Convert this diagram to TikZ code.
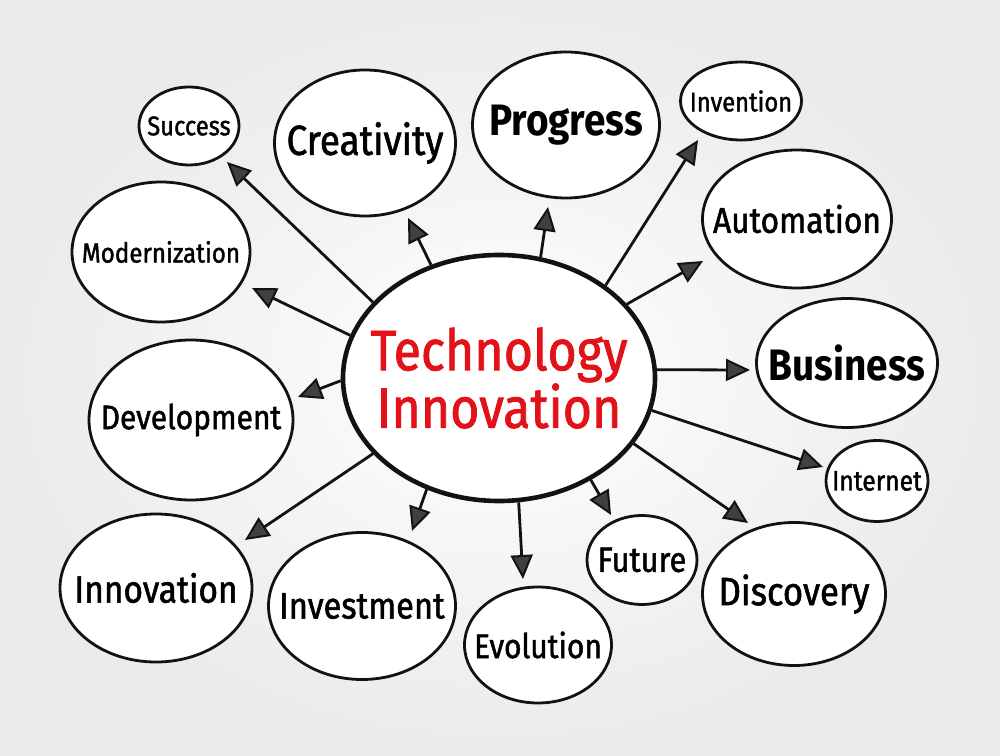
\documentclass[tikz,border=0pt]{standalone}
\usepackage{fontspec}
\setmainfont{Fira Sans}[FakeStretch=0.88,FakeBold=1.4,BoldFeatures={FakeBold=0}]
\usetikzlibrary{arrows.meta,shapes.geometric}
\definecolor{pen}{RGB}{18,18,18}
\definecolor{marker}{RGB}{226,18,24}
\tikzset{
 bubble/.style={ellipse,draw=pen,line width=2.8pt,fill=white,inner sep=0pt},
 arr/.style={-{Triangle[length=24pt,width=22pt,fill=black!75,line width=2pt]},line width=2.8pt,draw=pen},
 txt/.style={font=\fontsize{#1}{#1}\selectfont},
 txtbig/.style={font=\bfseries\fontsize{#1}{#1}\selectfont}
}
\begin{document}
\begin{tikzpicture}[x=1pt,y=1pt]
 \useasboundingbox (0,0) rectangle (1000,755);
 \shade[inner color=white,outer color=black!8] (0,0) rectangle (1000,755);
 \node[bubble,line width=4.6pt,minimum width=312pt,minimum height=246pt,
       label={[text=marker,align=center,font=\fontsize{57}{55}\selectfont]center:Technology\\Innovation}] (tech) at (499,377) {};
 \node[bubble,minimum width=100pt,minimum height=78pt,label={[txt=27]center:Success}]  (succ)  at (189,629) {};
 \node[bubble,minimum width=181pt,minimum height=146pt,label={[txt=42]center:Creativity}] (creat) at (365,612) {};
 \node[bubble,minimum width=187pt,minimum height=146pt,label={[txtbig=44]center:Progress}] (prog) at (566,630) {};
 \node[bubble,minimum width=121pt,minimum height=78pt,label={[txt=27]center:Invention}]  (inven) at (741,654) {};
 \node[bubble,minimum width=189pt,minimum height=138pt,label={[txt=36]center:Automation}] (auto)  at (797,536) {};
 \node[bubble,minimum width=178pt,minimum height=140pt,label={[txt=27.5]center:Modernization}] (modern) at (161,503) {};
 \node[bubble,minimum width=181pt,minimum height=129pt,label={[txtbig=44]center:Business}] (busi) at (847,392) {};
 \node[bubble,minimum width=204pt,minimum height=160pt,label={[txt=34]center:Development}] (devel) at (191,335) {};
 \node[bubble,minimum width=102pt,minimum height=81pt,label={[txt=28]center:Internet}]  (inter) at (877,274) {};
 \node[bubble,minimum width=192pt,minimum height=148pt,label={[txt=38]center:Innovation}] (innov) at (156,167) {};
 \node[bubble,minimum width=187pt,minimum height=147pt,label={[txt=37]center:Investment}] (invest) at (362,149) {};
 \node[bubble,minimum width=147pt,minimum height=116pt,label={[txt=34]center:Evolution}] (evol)  at (538,110) {};
 \node[bubble,minimum width=110pt,minimum height=89pt,label={[txt=35]center:Future}]  (fut)   at (642,195) {};
 \node[bubble,minimum width=183pt,minimum height=143pt,label={[txt=39.5]center:Discovery}] (disc)  at (794,161) {};
 \coordinate (tsucc) at (227,593);
 \coordinate (tmodern) at (252,467);
 \coordinate (tcreat) at (408,537);
 \coordinate (tprog) at (548,548);
 \coordinate (tinven) at (698,615);
 \coordinate (tauto) at (703,494);
 \coordinate (tbusi) at (750,385);
 \coordinate (tinter) at (823,288);
 \coordinate (tdisc) at (748,232);
 \coordinate (tfut) at (611,240);
 \coordinate (tevol) at (523,176);
 \coordinate (tinvest) at (412,224);
 \coordinate (tinnov) at (245,215);
 \coordinate (tdevel) at (298,358);
 \foreach \a/\t in {149.5/tsucc,164/tmodern,121.4/tcreat,71.6/tprog,41.9/tinven,30.8/tauto,3.7/tbusi,
   -12/tinter,-26.2/tdisc,-48.3/tfut,-81.7/tevol,-123/tinvest,211.5/tinnov,181.9/tdevel}
  \draw[arr] (tech.\a) -- (\t);
\end{tikzpicture}
\end{document}
